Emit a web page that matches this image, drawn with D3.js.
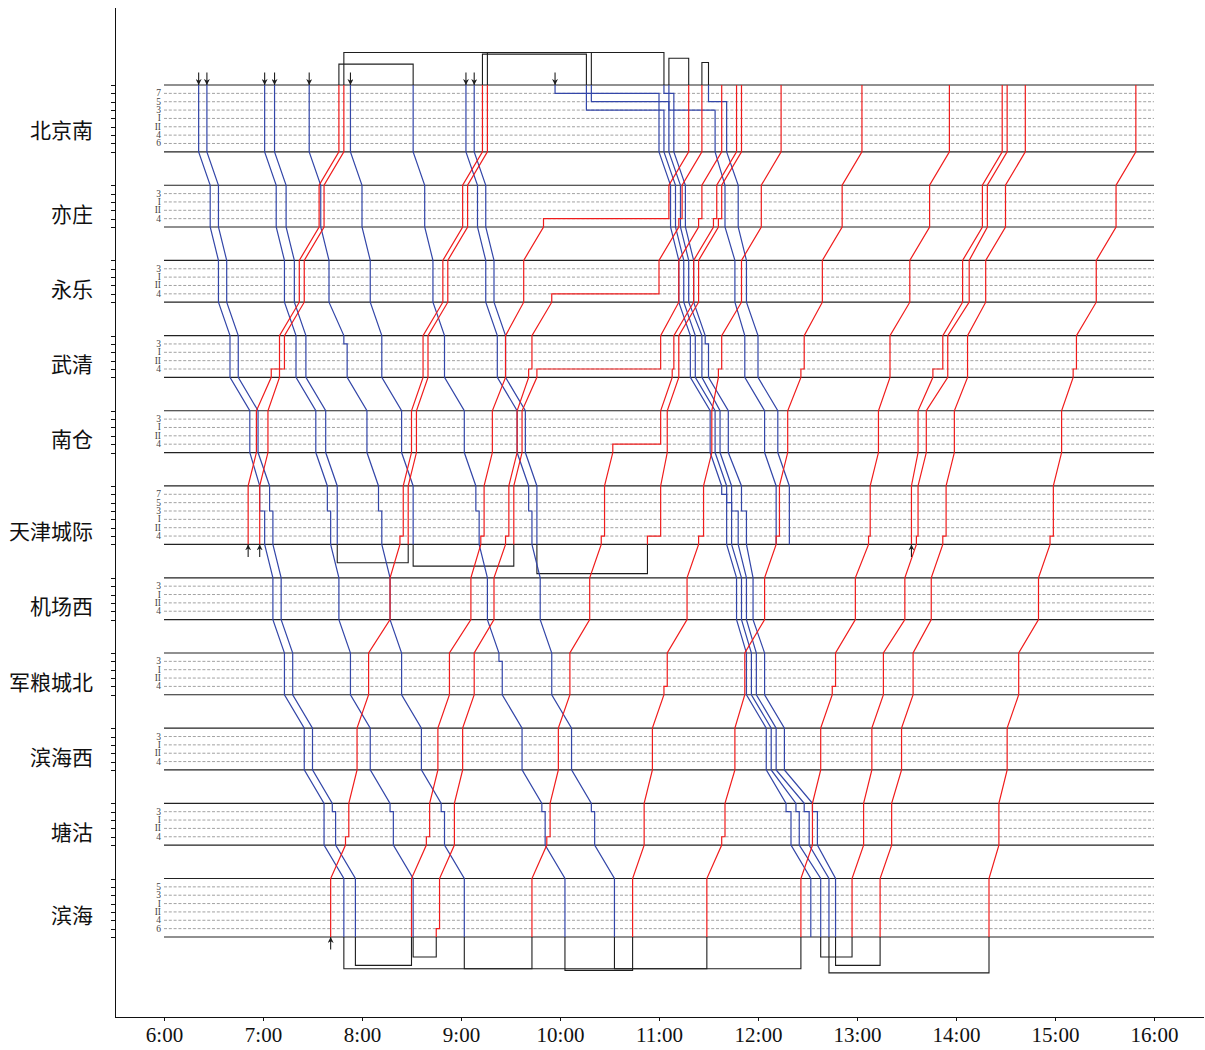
<!DOCTYPE html>
<html lang="zh">
<head>
<meta charset="utf-8">
<script src="https://d3js.org/d3.v7.min.js"></script>
<style>
body { margin: 0; background: #fff; }
.xaxis text { font: 21px "Liberation Serif", serif; fill: #111; }
.xaxis line, .xaxis path, .yaxis line, .yaxis path { stroke: #111; shape-rendering: crispEdges; }
.station { font: 21px "Noto Sans CJK SC", sans-serif; fill: #111; }
.trk { font: 9.5px "Liberation Serif", serif; fill: #444; }
</style>
</head>
<body>
<script>
// stations, top to bottom, and the tracks inside each station band
var stations = ["北京南", "亦庄", "永乐", "武清", "南仓", "天津城际", "机场西", "军粮城北", "滨海西", "塘沽", "滨海"];
var stationTracks = [
  ["7", "5", "3", "I", "II", "4", "6"],
  ["3", "I", "II", "4"],
  ["3", "I", "II", "4"],
  ["3", "I", "II", "4"],
  ["3", "I", "II", "4"],
  ["7", "5", "3", "I", "II", "4"],
  ["3", "I", "II", "4"],
  ["3", "I", "II", "4"],
  ["3", "I", "II", "4"],
  ["3", "I", "II", "4"],
  ["5", "3", "I", "II", "4", "6"]
];
var hourLabels = ["6:00", "7:00", "8:00", "9:00", "10:00", "11:00", "12:00", "13:00", "14:00", "15:00", "16:00"];

// down trains (北京南 -> 滨海); "a-b" = stop from a to b, "@t" = track
var downTrains = [
  {start: 0, arrow: true, stops: ["6:21", "6:28", "6:33", "6:40", "6:52", "6:58-7:01", "7:06", "7:13", "7:25", "7:37", "7:49"]},
  {start: 0, arrow: true, stops: ["6:26", "6:33", "6:38", "6:45", "6:57", "7:04-7:06", "7:11", "7:18", "7:30", "7:42-7:44", "7:56"]},
  {start: 0, arrow: true, stops: ["7:01", "7:08", "7:13", "7:20", "7:32", "7:39-7:41", "7:46", "7:53", "8:05", "8:17-8:19", "8:31"]},
  {start: 0, arrow: true, stops: ["7:07", "7:14", "7:19", "7:26", "7:38", "7:45"]},
  {start: 0, arrow: true, stops: ["7:28", "7:35", "7:40", "7:49-7:51", "8:03", "8:10-8:12", "8:17", "8:24", "8:36", "8:48-8:50", "9:02"]},
  {start: 0, arrow: true, stops: ["7:53", "8:00", "8:05", "8:12", "8:24", "8:31"]},
  {start: 0, arrow: false, stops: ["8:31", "8:38", "8:43", "8:50", "9:02", "9:09-9:11", "9:16", "9:23-9:25", "9:37", "9:49-9:51", "10:03"]},
  {start: 0, arrow: true, stops: ["9:03", "9:10", "9:15", "9:22", "9:34", "9:41-9:43", "9:48", "9:55", "10:07", "10:19-10:21", "10:33"]},
  {start: 0, arrow: true, stops: ["9:08", "9:15", "9:20", "9:27", "9:39", "9:46"]},
  {start: 0, arrow: true, stops: ["9:57-11:00@7", "11:07", "11:12", "11:19", "11:31", "11:38-11:41@7", "11:47", "11:53", "12:05", "12:17-12:20", "12:32"]},
  {start: 0, arrow: false, stops: ["10:16-11:03@3", "11:10", "11:15", "11:22", "11:34", "11:41-11:44@5", "11:50", "11:56", "12:08", "12:23-12:25", "12:38"]},
  {start: 0, arrow: false, stops: ["10:19-11:06@5", "11:13", "11:18", "11:26", "11:37", "11:44-11:48@3", "11:53", "11:59", "12:11", "12:28-12:31", "12:43"]},
  {start: 0, arrow: false, stops: ["11:03-11:09@7", "11:16", "11:21", "11:28-11:30", "11:42", "11:50-11:53@3", "11:57", "12:04", "12:16", "12:33-12:36", "12:47"]},
  {start: 0, arrow: false, stops: ["11:06-11:34@3", "11:40", "11:46", "11:52", "12:04", "12:11"]},
  {start: 0, arrow: false, stops: ["11:30-11:41@5", "11:48", "11:53", "12:00", "12:12", "12:19"]}
];

// up trains (toward 北京南), listed from their first station
var upTrains = [
  {start: 5, arrow: true, stops: ["6:51", "6:56", "7:05-7:13", "7:25", "7:37", "7:49"]},
  {start: 5, arrow: true, stops: ["6:58", "7:03", "7:10", "7:22", "7:34", "7:46"]},
  {start: 10, arrow: true, stops: ["7:41", "7:50-7:52", "7:57", "8:04", "8:17", "8:23-8:25", "8:30", "8:37", "8:49", "9:01", "9:13"]},
  {start: 5, arrow: false, stops: ["8:28", "8:33", "8:40", "8:52", "9:04", "9:16"]},
  {start: 10, arrow: false, stops: ["8:30", "8:39-8:41", "8:46", "8:53", "9:06", "9:12-9:14", "9:19", "9:27", "9:38", "9:50-11:06", "11:18"]},
  {start: 10, arrow: false, stops: ["8:45-8:47@6", "8:56", "9:01", "9:08", "9:20", "9:27-9:29", "9:34", "9:41-9:43", "9:55-11:00", "11:12-11:14", "11:26"]},
  {start: 5, arrow: false, stops: ["9:32", "9:37", "9:46-11:01", "11:12", "11:24-11:26", "11:38"]},
  {start: 10, arrow: false, stops: ["9:43", "9:52-9:54", "9:59", "10:06", "10:18", "10:25-10:27", "10:32-11:01", "11:08-11:09", "11:21", "11:33-11:35", "11:47"]},
  {start: 5, arrow: false, stops: ["10:53-11:01", "11:05", "11:12", "11:24", "11:36-11:38", "11:50"]},
  {start: 10, arrow: false, stops: ["10:44", "10:51", "10:56", "11:03-11:05", "11:17", "11:24-11:27", "11:32", "11:36-11:38", "11:50", "12:02", "12:14"]},
  {start: 10, arrow: false, stops: ["11:29", "11:38-11:40", "11:46", "11:52", "12:04", "12:11-12:13", "12:18", "12:26-12:28", "12:39", "12:51", "13:03"]},
  {start: 10, arrow: false, stops: ["12:26", "12:33", "12:38", "12:45-12:47", "12:59", "13:07-13:08", "13:13", "13:20", "13:32", "13:44", "13:56"]},
  {start: 10, arrow: false, stops: ["12:57", "13:04", "13:09", "13:16", "13:29", "13:36-13:37", "13:42", "13:55", "14:08", "14:19", "14:31"]},
  {start: 5, arrow: true, stops: ["13:33", "13:37", "13:46-13:52", "14:04", "14:16", "14:28"]},
  {start: 10, arrow: false, stops: ["13:14", "13:21", "13:27", "13:34", "13:45", "13:52-13:54", "13:59", "14:07", "14:18", "14:30", "14:42"]},
  {start: 10, arrow: false, stops: ["14:20", "14:26", "14:31", "14:38", "14:50", "14:57-14:59", "15:04", "15:11-15:13", "15:25", "15:37", "15:49"]}
];

// turnaround links: [arrival, departure, lane (track units away from the band)]
var beijingLinks = [["7:46", "8:31", 2.5], ["7:49", "10:19", 3.9], ["9:13", "10:16", 3.7], ["9:16", "11:03", 3.9], ["11:18", "11:06", 3.2], ["11:26", "11:30", 2.7]];
var tianjinLinks = [["7:45", "8:28", 2.2], ["8:31", "9:32", 2.6], ["9:46", "10:53", 3.5]];
var binhaiLinks = [["7:49", "9:43", 3.8], ["7:56", "8:30", 3.4], ["8:31", "8:45", 2.4], ["9:02", "12:26", 3.8], ["10:03", "10:44", 4.0], ["10:33", "11:29", 3.8], ["12:38", "12:57", 2.4], ["12:43", "14:20", 4.3], ["12:47", "13:14", 3.4]];

var width = 1205, height = 1050;
var blue = "#3346a8", red = "#f01c1c", dark = "#1e1e1e";

function toMin(s) { var p = s.split(":"); return +p[0] * 60 + +p[1]; }

var svg = d3.select("body").append("svg").attr("width", width).attr("height", height);

var x = d3.scaleLinear().domain([toMin("5:30"), toMin("16:30")]).range([114.5, 1203.5]);

// station bands in track units, 4 units between stations
var bands = [];
var u = 0;
stationTracks.forEach(function(tr, i) {
  bands.push({name: stations[i], tracks: tr, top: u, bottom: u + tr.length + 1});
  u += tr.length + 1 + 4;
});
var y = d3.scaleLinear().domain([-9.34, 111.58]).range([7, 1017]);

function trackY(b, t) { return y(b.top + b.tracks.indexOf(t) + 1); }

var x0 = x(toMin(hourLabels[0])), x1 = x(toMin(hourLabels[hourLabels.length - 1]));

// axes
var tickVals = [];
bands.forEach(function(b) { for (var k = b.top; k <= b.bottom; k++) tickVals.push(k); });
svg.append("g").attr("class", "yaxis").attr("transform", "translate(114.5,0)")
  .call(d3.axisLeft(y).tickValues(tickVals).tickFormat("").tickSize(3.5).tickSizeOuter(0));
svg.append("g").attr("class", "xaxis").attr("transform", "translate(0,1017)")
  .call(d3.axisBottom(x).tickValues(hourLabels.map(toMin)).tickFormat(function(d, i) { return hourLabels[i]; })
    .tickSize(4).tickSizeOuter(0).tickPadding(6));

// station bands
var gB = svg.append("g");
bands.forEach(function(b) {
  [b.top, b.bottom].forEach(function(v) {
    gB.append("line").attr("x1", x0).attr("x2", x1).attr("y1", y(v)).attr("y2", y(v))
      .attr("stroke", "#222").attr("stroke-width", 1.2);
  });
  b.tracks.forEach(function(t) {
    var ty = trackY(b, t);
    gB.append("line").attr("x1", x0).attr("x2", x1).attr("y1", ty).attr("y2", ty)
      .attr("stroke", "#8a8a8a").attr("stroke-width", 0.8).attr("stroke-dasharray", "3,1.8");
    gB.append("text").attr("class", "trk").attr("x", x0 - 3).attr("y", ty)
      .attr("text-anchor", "end").attr("dominant-baseline", "central").text(t);
  });
  svg.append("text").attr("class", "station").attr("x", 93).attr("y", trackY(b, "II") + 2.5)
    .attr("text-anchor", "end").attr("dominant-baseline", "central").text(b.name);
});

function parseStop(s, defTrack) {
  var track = defTrack, t = s;
  if (s.indexOf("@") >= 0) { track = s.split("@")[1]; t = s.split("@")[0]; }
  var p = t.split("-");
  return {tin: toMin(p[0]), tout: toMin(p[p.length - 1]), track: track};
}

function trainPoints(tr, dir) {
  var pts = [];
  tr.stops.forEach(function(s, k) {
    var st = parseStop(s, dir > 0 ? "3" : "4");
    var b = bands[tr.start + dir * k];
    var yIn = dir > 0 ? y(b.top) : y(b.bottom);
    var yOut = dir > 0 ? y(b.bottom) : y(b.top);
    pts.push([x(st.tin), yIn]);
    if (st.tout > st.tin) {
      var ty = trackY(b, st.track);
      pts.push([x(st.tin), ty], [x(st.tout), ty]);
    }
    pts.push([x(st.tout), yOut]);
  });
  return pts;
}

var line = d3.line();

svg.append("defs").append("marker").attr("id", "ah").attr("viewBox", "0 0 10 10")
  .attr("refX", 10).attr("refY", 5).attr("markerWidth", 6).attr("markerHeight", 6)
  .attr("markerUnits", "userSpaceOnUse").attr("orient", "auto")
  .append("path").attr("d", "M0,0L10,5L0,10L3,5Z").attr("fill", dark);

// turnaround links
var gL = svg.append("g").attr("fill", "none").attr("stroke", dark).attr("stroke-width", 1.1);
function drawLinks(links, edge, sign) {
  links.forEach(function(l) {
    var a = x(toMin(l[0])), c = x(toMin(l[1]));
    var e = y(edge), ly = y(edge + sign * l[2]);
    gL.append("path").attr("d", line([[a, e], [a, ly], [c, ly], [c, e]]));
  });
}
drawLinks(beijingLinks, bands[0].top, -1);
drawLinks(tianjinLinks, bands[5].bottom, 1);
drawLinks(binhaiLinks, bands[10].bottom, 1);

var gT = svg.append("g").attr("fill", "none").attr("stroke-width", 1.2).attr("stroke-linejoin", "miter");
downTrains.forEach(function(tr) {
  gT.append("path").attr("d", line(trainPoints(tr, 1))).attr("stroke", blue);
});
upTrains.forEach(function(tr) {
  gT.append("path").attr("d", line(trainPoints(tr, -1))).attr("stroke", red);
});

// start arrows
var gA = svg.append("g").attr("stroke", dark).attr("stroke-width", 1.1);
downTrains.filter(function(d) { return d.arrow; }).forEach(function(tr) {
  var xs = x(parseStop(tr.stops[0]).tin);
  gA.append("line").attr("x1", xs).attr("x2", xs).attr("y1", y(bands[tr.start].top - 1.5)).attr("y2", y(bands[tr.start].top))
    .attr("marker-end", "url(#ah)");
});
upTrains.filter(function(d) { return d.arrow; }).forEach(function(tr) {
  var xs = x(parseStop(tr.stops[0]).tin);
  gA.append("line").attr("x1", xs).attr("x2", xs).attr("y1", y(bands[tr.start].bottom + 1.5)).attr("y2", y(bands[tr.start].bottom))
    .attr("marker-end", "url(#ah)");
});
</script>
</body>
</html>
